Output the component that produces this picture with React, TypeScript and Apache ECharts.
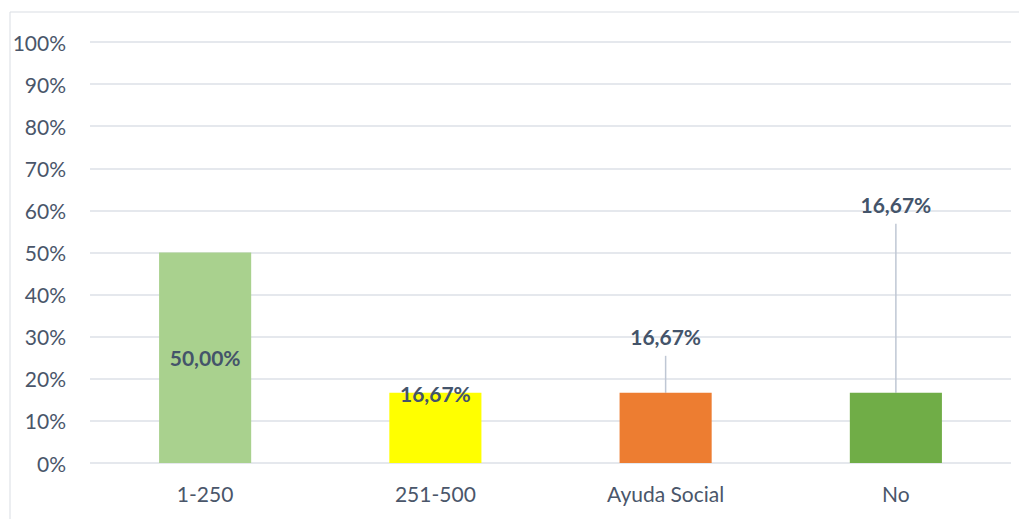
import React, { useEffect, useRef } from "react";
import * as echarts from "echarts";

const categories = ["1-250", "251-500", "Ayuda Social", "No"];
const values = [50, 16.67, 16.67, 16.67];
const labels = ["50,00%", "16,67%", "16,67%", "16,67%"];
const colors = ["#a9d18e", "#ffff00", "#ed7d31", "#70ad47"];
const yTicks = [0, 10, 20, 30, 40, 50, 60, 70, 80, 90, 100];

export default function App() {
  const ref = useRef<HTMLDivElement>(null);
  useEffect(() => {
    if (!ref.current) return;
    const chart = echarts.init(ref.current, null, { renderer: "svg" });
    const labelDy = [0, 16, -32, -164];
    const font = "Lato, 'Open Sans', sans-serif";
    chart.setOption({
      animation: false,
      backgroundColor: "#ffffff",
      graphic: [
        {
          type: "rect",
          shape: { x: 10, y: 12, width: 1100, height: 600 },
          style: { fill: "none", stroke: "#d9dde3", lineWidth: 1 },
          silent: true,
        },
      ],
      grid: { left: 90, right: 8, top: 42, bottom: 56 },
      xAxis: {
        type: "category",
        data: categories,
        axisLine: { show: false },
        axisTick: { show: false },
        axisLabel: { color: "#4a566a", fontSize: 21, fontFamily: font, margin: 20 },
      },
      yAxis: {
        type: "value",
        min: 0,
        max: 100,
        interval: 10,
        axisLine: { show: false },
        axisTick: { show: false },
        splitLine: { lineStyle: { color: "#dde1e7", width: 1.5 } },
        axisLabel: {
          color: "#4a566a",
          fontSize: 21,
          fontFamily: font,
          margin: 24,
          formatter: (v: number) => (yTicks.includes(v) ? v + "%" : ""),
        },
      },
      series: [
        {
          type: "bar",
          barWidth: "40%",
          data: values.map((v, i) => ({
            value: v,
            itemStyle: { color: colors[i] },
            label: {
              show: true,
              position: i === 0 ? "inside" : "top",
              formatter: i >= 2 ? "{a|" + labels[i] + "}\n{b|}" : labels[i],
              color: "#44546a",
              fontWeight: "bold",
              fontSize: 21,
              fontFamily: font,
              rich: {
                a: {
                  color: "#44546a",
                  fontWeight: "bold",
                  fontSize: 21,
                  fontFamily: font,
                  lineHeight: 22,
                },
                b: { fontSize: 8, lineHeight: 8 },
              },
            },
            labelLine:
              i >= 2
                ? { show: true, lineStyle: { color: "#bfc7d4", width: 1.5 } }
                : { show: false },
          })),
          labelLayout: (params: any) => ({ dy: labelDy[params.dataIndex] }),
        },
      ],
    });
    return () => chart.dispose();
  }, []);
  return (
    <div
      ref={ref}
      style={{ position: "fixed", left: 0, top: 0, width: 1019, height: 519 }}
    />
  );
}
